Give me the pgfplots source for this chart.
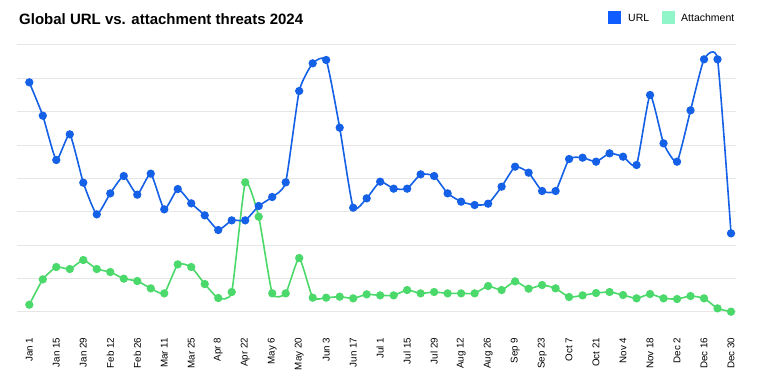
\documentclass[border=0pt]{standalone}
\usepackage{pgfplots}
\pgfplotsset{compat=1.18}
\usepackage{fontspec}
\setmainfont{Liberation Sans}
\definecolor{urlline}{HTML}{1460E6}
\definecolor{attline}{HTML}{4CD96C}
\definecolor{urlleg}{HTML}{0F5CFF}
\definecolor{attleg}{HTML}{90F5C9}
\definecolor{gridc}{HTML}{E6E6E6}
\begin{document}
\begin{tikzpicture}[x=1pt,y=1pt]
\path[use as bounding box, fill=white] (0,0) rectangle (770,387);
\node[anchor=base west, font=\bfseries\fontsize{15}{18}\selectfont, inner sep=0pt] at (19,362) {Global URL vs. attachment threats 2024};
\fill[urlleg] (608,363) rectangle (621,376);
\node[anchor=base west, font=\fontsize{10.5}{12}\selectfont, inner sep=0pt] at (628,365) {URL};
\fill[attleg] (662,363) rectangle (675,376);
\node[anchor=base west, font=\fontsize{10.5}{12}\selectfont, inner sep=0pt] at (681,365) {Attachment};
\begin{axis}[
  at={(17.3pt,75.3pt)}, anchor=south west,
  scale only axis, width=718.7pt, height=266.7pt,
  xmin=-0.89, xmax=52.37, ymin=0, ymax=8,
  clip=false,
  axis line style={draw=none},
  major tick length=0pt,
  ytick={0,1,...,8}, yticklabels={},
  ymajorgrids, grid style={gridc, line width=1pt},
  xtick={0,2,...,52},
  xticklabels={Jan 1,Jan 15,Jan 29,Feb 12,Feb 26,Mar 11,Mar 25,Apr 8,Apr 22,May 6,May 20,Jun 3,Jun 17,Jul 1,Jul 15,Jul 29,Aug 12,Aug 26,Sep 9,Sep 23,Oct 7,Oct 21,Nov 4,Nov 18,Dec 2,Dec 16,Dec 30},
  xticklabel style={rotate=90, anchor=east, font=\fontsize{9.8}{11}\selectfont, inner sep=0pt},
  xticklabel shift=26pt,
]
\addplot[attline, line width=1.6pt, smooth, tension=0.3, mark=*, mark size=3.3pt, mark options={solid, fill=attline, draw=attline}] coordinates {
(0,0.21)(1,0.97)(2,1.34)(3,1.28)(4,1.55)(5,1.28)(6,1.19)(7,0.99)(8,0.92)(9,0.70)
(10,0.55)(11,1.42)(12,1.34)(13,0.83)(14,0.41)(15,0.59)(16,3.88)(17,2.85)(18,0.55)(19,0.55)
(20,1.61)(21,0.42)(22,0.42)(23,0.45)(24,0.40)(25,0.52)(26,0.49)(27,0.49)(28,0.65)(29,0.55)
(30,0.59)(31,0.55)(32,0.55)(33,0.55)(34,0.77)(35,0.65)(36,0.91)(37,0.69)(38,0.80)(39,0.70)
(40,0.44)(41,0.49)(42,0.56)(43,0.59)(44,0.50)(45,0.40)(46,0.53)(47,0.40)(48,0.38)(49,0.47)
(50,0.40)(51,0.10)(52,0.0)};
\addplot[urlline, line width=1.6pt, smooth, tension=0.3, mark=*, mark size=3.3pt, mark options={solid, fill=urlline, draw=urlline}] coordinates {
(0,6.88)(1,5.88)(2,4.55)(3,5.32)(4,3.87)(5,2.92)(6,3.55)(7,4.07)(8,3.51)(9,4.14)
(10,3.07)(11,3.68)(12,3.25)(13,2.89)(14,2.45)(15,2.74)(16,2.74)(17,3.17)(18,3.44)(19,3.88)
(20,6.62)(21,7.45)(22,7.55)(23,5.52)(24,3.12)(25,3.40)(26,3.90)(27,3.69)(28,3.69)(29,4.12)
(30,4.07)(31,3.55)(32,3.30)(33,3.20)(34,3.24)(35,3.75)(36,4.35)(37,4.17)(38,3.62)(39,3.62)
(40,4.58)(41,4.62)(42,4.50)(43,4.75)(44,4.65)(45,4.40)(46,6.50)(47,5.05)(48,4.50)(49,6.04)
(50,7.57)(51,7.57)(52,2.35)};
\end{axis}
\end{tikzpicture}
\end{document}
